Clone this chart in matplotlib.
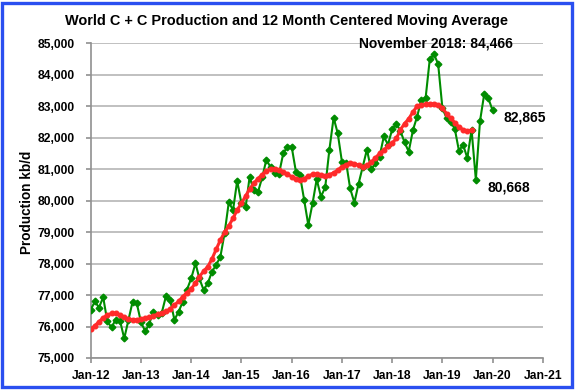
import matplotlib
matplotlib.use("Agg")
import matplotlib.pyplot as plt
import matplotlib.dates as mdates
from matplotlib.patches import Rectangle
import numpy as np
import pandas as pd

plt.rcParams['font.family'] = ['Liberation Sans', 'DejaVu Sans']

title = "World C + C Production and 12 Month Centered Moving Average"
ylabel = "Production kb/d"
peak_label = "November 2018: 84,466"
last_label = "82,865"
low_label = "80,668"

# Monthly World C+C production, Jan 2012 - Jan 2020 (kb/d)
production = [
    76530, 76800, 76600, 76930, 76160, 75970, 76220, 76190, 75620, 76200, 76790, 76740,
    76130, 75850, 76080, 76470, 76360, 76440, 76960, 76840, 76210, 76470, 76790, 77170,
    77530, 78010, 77530, 77160, 77370, 77745, 77955, 78220, 78980, 79950, 79700, 80630,
    79910, 79810, 80740, 80340, 80270, 80740, 81300, 81060, 80870, 80850, 81505, 81716,
    81716, 80920, 80815, 80020, 79226, 79916, 80678, 80126, 80424, 81610, 82636, 82140,
    81220, 81186, 80392, 79935, 80530, 81080, 81620, 80990, 81186, 81397, 82040, 81780,
    82267, 82440, 82223, 81850, 81560, 82245, 82668, 83210, 83270, 84490, 84650, 84340,
    82935, 82617, 82509, 82280, 81588, 81768, 81355, 82250, 80668, 82520, 83389, 83252,
    82865,
]

# 12 month centered moving average, Jan 2012 - Aug 2019 (kb/d)
moving_avg = [
    75912, 76030, 76150, 76280, 76360, 76420, 76420, 76370, 76300, 76240, 76220, 76220,
    76240, 76260, 76290, 76340, 76390, 76430, 76480, 76550, 76680, 76800, 76950, 77080,
    77200, 77380, 77580, 77760, 77900, 78150, 78450, 78750, 79000, 79200, 79440, 79700,
    79920, 80150, 80370, 80550, 80700, 80830, 80940, 81010, 81020, 80980, 80920, 80840,
    80760, 80690, 80670, 80700, 80780, 80840, 80840, 80820, 80790, 80830, 80880, 80970,
    81080, 81140, 81200, 81180, 81130, 81080, 81120, 81220, 81360, 81500, 81610, 81730,
    81830, 81980, 82250, 82450, 82600, 82820, 83000, 83040, 83060, 83070, 83080, 83050,
    82940, 82760, 82620, 82480, 82340, 82250, 82220, 82240,
]

start_month = "2012-01-01"
y_ticks = list(range(75000, 85001, 1000))
x_tick_years = list(range(2012, 2022))

prod_dates = pd.date_range(start_month, periods=len(production), freq="MS")
ma_dates = pd.date_range(start_month, periods=len(moving_avg), freq="MS")

fig = plt.figure(figsize=(5.75, 3.9), dpi=100)
ax = fig.add_axes([0.1577, 0.0821, 0.7866, 0.8069])

ax.plot(prod_dates, production, color="#008c00", lw=1.5, marker="D",
        markersize=3.4, zorder=3)
ax.plot(ma_dates, moving_avg, color="#ff2a2a", lw=2.2, marker="o",
        markersize=3.3, zorder=4)

ax.set_ylim(75000, 85000)
ax.set_yticks(y_ticks)
ax.yaxis.set_major_formatter(matplotlib.ticker.FuncFormatter(lambda v, p: f"{int(v):,}"))
ax.set_xlim(pd.Timestamp("2012-01-01"), pd.Timestamp("2021-01-01"))
ax.set_xticks([pd.Timestamp(f"{y}-01-01") for y in x_tick_years])
ax.xaxis.set_major_formatter(mdates.DateFormatter("%b-%y"))

ax.grid(axis="y", color="#c0c0c0", lw=1.4, zorder=0)
ax.set_axisbelow(True)
for s in ["top", "right"]:
    ax.spines[s].set_visible(False)
for s in ["left", "bottom"]:
    ax.spines[s].set_color("#909090")
    ax.spines[s].set_linewidth(1.2)
ax.tick_params(axis="both", colors="#909090", length=3.5, width=1.2, direction="out")
ax.tick_params(axis="y", pad=8)
ax.tick_params(axis="x", pad=5)
for lab in ax.get_yticklabels() + ax.get_xticklabels():
    lab.set_color("black")
    lab.set_fontweight("bold")
    lab.set_fontsize(8.7)

fig.text(0.047, 0.482, ylabel, rotation=90, ha="center", va="center",
         fontsize=9.8, fontweight="bold")
fig.text(0.499, 0.945, title, ha="center", va="center", fontsize=10.45, fontweight="bold")
fig.text(0.758, 0.889, peak_label, ha="center", va="center", fontsize=10, fontweight="bold")
fig.text(0.875, 0.700, last_label, ha="left", va="center", fontsize=10, fontweight="bold")
fig.text(0.847, 0.5205, low_label, ha="left", va="center", fontsize=10, fontweight="bold")

fig.patches.append(Rectangle((0.004, 0.008), 0.99, 0.985, transform=fig.transFigure,
                             fill=False, edgecolor="#2a4ff0", lw=2.4))

fig.savefig("out.png", dpi=100)
